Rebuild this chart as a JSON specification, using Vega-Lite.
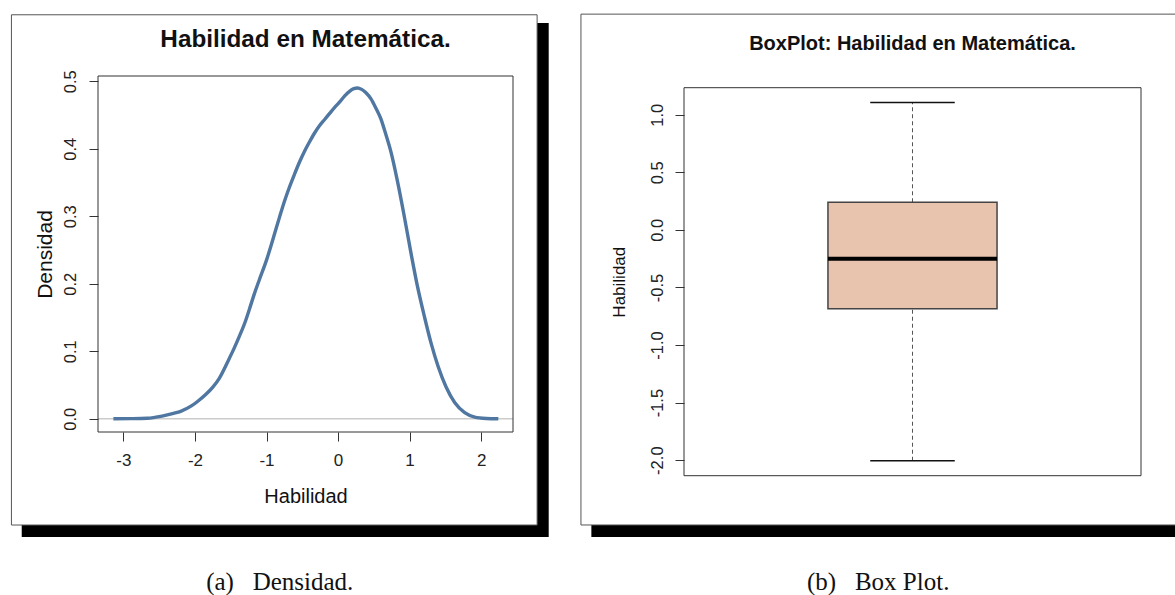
{
  "$schema": "https://vega.github.io/schema/vega-lite/v6.json",
  "background": "white",
  "padding": {"left": 10, "top": 13, "right": 0, "bottom": 0},
  "autosize": {"type": "pad"},
  "spacing": 31,
  "config": {
    "view": {"stroke": null},
    "font": "Liberation Sans",
    "axis": {"domain": false, "grid": false, "tickColor": "#333333", "labelColor": "#222222", "titleColor": "#111111", "titleFontWeight": "normal", "labelFont": "Liberation Sans", "titleFont": "Liberation Sans", "labelFlush": false, "labelOverlap": false, "labelBound": false}
  },
  "datasets": {
    "densidad": [
      {"habilidad": -3.14, "densidad": 0.0},
      {"habilidad": -2.9, "densidad": 0.0002},
      {"habilidad": -2.67, "densidad": 0.0008},
      {"habilidad": -2.46, "densidad": 0.004},
      {"habilidad": -2.3, "densidad": 0.008},
      {"habilidad": -2.2, "densidad": 0.011},
      {"habilidad": -2.05, "densidad": 0.019},
      {"habilidad": -1.96, "densidad": 0.026},
      {"habilidad": -1.85, "densidad": 0.036},
      {"habilidad": -1.75, "densidad": 0.047},
      {"habilidad": -1.66, "densidad": 0.06},
      {"habilidad": -1.54, "densidad": 0.085},
      {"habilidad": -1.45, "densidad": 0.105},
      {"habilidad": -1.38, "densidad": 0.122},
      {"habilidad": -1.3, "densidad": 0.143},
      {"habilidad": -1.24, "densidad": 0.162},
      {"habilidad": -1.17, "densidad": 0.185},
      {"habilidad": -1.1, "densidad": 0.206},
      {"habilidad": -1.0, "densidad": 0.235},
      {"habilidad": -0.91, "densidad": 0.266},
      {"habilidad": -0.82, "densidad": 0.298},
      {"habilidad": -0.75, "densidad": 0.322},
      {"habilidad": -0.68, "densidad": 0.343},
      {"habilidad": -0.61, "densidad": 0.362},
      {"habilidad": -0.54, "densidad": 0.38},
      {"habilidad": -0.47, "densidad": 0.396},
      {"habilidad": -0.4, "densidad": 0.41},
      {"habilidad": -0.33, "densidad": 0.423},
      {"habilidad": -0.26, "densidad": 0.434},
      {"habilidad": -0.19, "densidad": 0.443},
      {"habilidad": -0.12, "densidad": 0.452},
      {"habilidad": -0.05, "densidad": 0.461},
      {"habilidad": 0.02, "densidad": 0.469},
      {"habilidad": 0.09, "densidad": 0.478},
      {"habilidad": 0.16, "densidad": 0.485},
      {"habilidad": 0.22, "densidad": 0.489},
      {"habilidad": 0.27, "densidad": 0.49},
      {"habilidad": 0.33, "densidad": 0.488},
      {"habilidad": 0.39, "densidad": 0.483},
      {"habilidad": 0.46, "densidad": 0.474},
      {"habilidad": 0.53, "densidad": 0.46},
      {"habilidad": 0.6, "densidad": 0.444},
      {"habilidad": 0.66, "densidad": 0.424},
      {"habilidad": 0.74, "densidad": 0.395},
      {"habilidad": 0.83, "densidad": 0.352},
      {"habilidad": 0.92, "densidad": 0.303},
      {"habilidad": 1.02, "densidad": 0.245},
      {"habilidad": 1.11, "densidad": 0.196},
      {"habilidad": 1.21, "densidad": 0.15},
      {"habilidad": 1.3, "densidad": 0.112},
      {"habilidad": 1.4, "densidad": 0.077},
      {"habilidad": 1.51, "densidad": 0.047},
      {"habilidad": 1.63, "densidad": 0.024},
      {"habilidad": 1.77, "densidad": 0.009},
      {"habilidad": 1.91, "densidad": 0.0025},
      {"habilidad": 2.07, "densidad": 0.0005},
      {"habilidad": 2.24, "densidad": 0.0}
    ],
    "caja": [
      {"min": -2.005, "q1": -0.685, "mediana": -0.25, "q3": 0.24, "max": 1.107}
    ]
  },
  "hconcat": [
    {
      "width": 415,
      "height": 356,
      "layer": [
        {
          "data": {"values": [{}]},
          "mark": {"type": "rect", "color": "black"},
          "encoding": {
            "x": {"datum": -4.421, "type": "quantitative", "scale": {"domain": [-3.355, 2.445], "nice": false, "zero": false},
              "axis": {"zindex": 1, "title": "Habilidad", "values": [-3, -2, -1, 0, 1, 2], "labelExpr": "datum.value < 0 ? '-' + format(-datum.value, 'd') : format(datum.value, 'd')", "tickSize": 9, "labelFontSize": 17, "labelPadding": 11, "titleFontSize": 20, "titlePadding": 18}},
            "x2": {"datum": 2.944},
            "y": {"datum": 0.5863, "type": "quantitative", "scale": {"domain": [-0.0196, 0.5078], "nice": false, "zero": false},
              "axis": {"zindex": 1, "title": "Densidad", "values": [0, 0.1, 0.2, 0.3, 0.4, 0.5], "format": ".1f", "labelAngle": 270, "labelAlign": "center", "labelBaseline": "bottom", "tickSize": 9, "labelFontSize": 16.5, "labelPadding": 11, "titleFontSize": 21, "titlePadding": 7}},
            "y2": {"datum": -0.1752}
          }
        },
        {
          "data": {"values": [{}]},
          "mark": {"type": "rect", "fill": "white", "stroke": "#555555", "strokeWidth": 1},
          "encoding": {
            "x": {"datum": -4.565, "type": "quantitative", "scale": {"domain": [-3.355, 2.445], "nice": false, "zero": false}},
            "x2": {"datum": 2.782},
            "y": {"datum": 0.5985, "type": "quantitative", "scale": {"domain": [-0.0196, 0.5078], "nice": false, "zero": false}},
            "y2": {"datum": -0.1574}
          }
        },
        {
          "data": {"values": [{}]},
          "mark": {"type": "rule", "color": "#cccccc", "strokeWidth": 1.5},
          "encoding": {
            "x": {"datum": -3.355, "type": "quantitative", "scale": {"domain": [-3.355, 2.445], "nice": false, "zero": false}},
            "x2": {"datum": 2.445},
            "y": {"datum": 0, "type": "quantitative", "scale": {"domain": [-0.0196, 0.5078], "nice": false, "zero": false}}
          }
        },
        {
          "data": {"name": "densidad"},
          "mark": {"type": "line", "color": "#4f77a1", "strokeWidth": 3.4, "interpolate": "monotone"},
          "encoding": {
            "x": {"field": "habilidad", "type": "quantitative", "scale": {"domain": [-3.355, 2.445], "nice": false, "zero": false}},
            "y": {"field": "densidad", "type": "quantitative", "scale": {"domain": [-0.0196, 0.5078], "nice": false, "zero": false}}
          }
        },
        {
          "data": {"values": [{}]},
          "mark": {"type": "rect", "filled": false, "color": "#333333", "strokeWidth": 1},
          "encoding": {
            "x": {"datum": -3.355, "type": "quantitative", "scale": {"domain": [-3.355, 2.445], "nice": false, "zero": false}},
            "x2": {"datum": 2.445},
            "y": {"datum": -0.0196, "type": "quantitative", "scale": {"domain": [-0.0196, 0.5078], "nice": false, "zero": false}},
            "y2": {"datum": 0.5078}
          }
        },
        {
          "data": {"values": [{}]},
          "mark": {"type": "text", "text": "Habilidad en Matemática.", "font": "Liberation Sans", "fontSize": 24.3, "fontWeight": "bold", "align": "center", "baseline": "alphabetic", "color": "#111111"},
          "encoding": {
            "x": {"datum": -0.455, "type": "quantitative", "scale": {"domain": [-3.355, 2.445], "nice": false, "zero": false}},
            "y": {"datum": 0.5508, "type": "quantitative", "scale": {"domain": [-0.0196, 0.5078], "nice": false, "zero": false}}
          }
        },
        {
          "data": {"values": [{}]},
          "mark": {"type": "text", "text": "(a)\u00a0\u00a0\u00a0Densidad.", "font": "Liberation Serif", "fontSize": 25, "align": "center", "baseline": "alphabetic", "color": "#111111"},
          "encoding": {
            "x": {"datum": -0.815, "type": "quantitative", "scale": {"domain": [-3.355, 2.445], "nice": false, "zero": false}},
            "y": {"datum": -0.2537, "type": "quantitative", "scale": {"domain": [-0.0196, 0.5078], "nice": false, "zero": false}}
          }
        }
      ]
    },
    {
      "width": 457,
      "height": 411.4,
      "layer": [
        {
          "data": {"values": [{}]},
          "mark": {"type": "rect", "color": "black"},
          "encoding": {
            "x": {"datum": 0.2973, "type": "quantitative", "scale": {"domain": [0.5, 1.5], "nice": false, "zero": false}, "axis": null},
            "x2": {"datum": 1.575},
            "y": {"datum": 1.797, "type": "quantitative", "scale": {"domain": [-2.2366, 1.3366], "nice": false, "zero": false},
              "axis": {"zindex": 1, "title": "Habilidad", "values": [-2, -1.5, -1, -0.5, 0, 0.5, 1], "labelExpr": "datum.value < 0 ? '-' + format(-datum.value, '.1f') : format(datum.value, '.1f')", "labelAngle": 270, "labelAlign": "center", "labelBaseline": "bottom", "tickSize": 9, "labelFontSize": 16.5, "labelPadding": 10, "titleFontSize": 17, "titlePadding": 21}},
            "y2": {"datum": -2.668}
          }
        },
        {
          "data": {"values": [{}]},
          "mark": {"type": "rect", "fill": "white", "strokeWidth": 0},
          "encoding": {
            "x": {"datum": 0.2745, "type": "quantitative", "scale": {"domain": [0.5, 1.5], "nice": false, "zero": false}},
            "x2": {"datum": 1.575},
            "y": {"datum": 1.874, "type": "quantitative", "scale": {"domain": [-2.2366, 1.3366], "nice": false, "zero": false}},
            "y2": {"datum": -2.563}
          }
        },
        {
          "data": {"values": [{}]},
          "mark": {"type": "rule", "color": "#555555", "strokeWidth": 1},
          "encoding": {
            "x": {"datum": 0.2745, "type": "quantitative", "scale": {"domain": [0.5, 1.5], "nice": false, "zero": false}},
            "y": {"datum": 1.874, "type": "quantitative", "scale": {"domain": [-2.2366, 1.3366], "nice": false, "zero": false}},
            "y2": {"datum": -2.563}
          }
        },
        {
          "data": {"values": [{}]},
          "mark": {"type": "rule", "color": "#555555", "strokeWidth": 1},
          "encoding": {
            "x": {"datum": 0.2745, "type": "quantitative", "scale": {"domain": [0.5, 1.5], "nice": false, "zero": false}},
            "x2": {"datum": 1.575},
            "y": {"datum": 1.874, "type": "quantitative", "scale": {"domain": [-2.2366, 1.3366], "nice": false, "zero": false}}
          }
        },
        {
          "data": {"values": [{}]},
          "mark": {"type": "rule", "color": "#555555", "strokeWidth": 1},
          "encoding": {
            "x": {"datum": 0.2745, "type": "quantitative", "scale": {"domain": [0.5, 1.5], "nice": false, "zero": false}},
            "x2": {"datum": 1.575},
            "y": {"datum": -2.563, "type": "quantitative", "scale": {"domain": [-2.2366, 1.3366], "nice": false, "zero": false}}
          }
        },
        {
          "data": {"values": [{}]},
          "mark": {"type": "rect", "filled": false, "color": "#333333", "strokeWidth": 1},
          "encoding": {
            "x": {"datum": 0.5, "type": "quantitative", "scale": {"domain": [0.5, 1.5], "nice": false, "zero": false}},
            "x2": {"datum": 1.5},
            "y": {"datum": -2.135, "type": "quantitative", "scale": {"domain": [-2.2366, 1.3366], "nice": false, "zero": false}},
            "y2": {"datum": 1.235}
          }
        },
        {
          "data": {"name": "caja"},
          "mark": {"type": "rule", "color": "#555555", "strokeWidth": 1, "strokeDash": [4, 3]},
          "encoding": {
            "x": {"datum": 1, "type": "quantitative", "scale": {"domain": [0.5, 1.5], "nice": false, "zero": false}},
            "y": {"field": "q3", "type": "quantitative", "scale": {"domain": [-2.2366, 1.3366], "nice": false, "zero": false}},
            "y2": {"field": "max"}
          }
        },
        {
          "data": {"name": "caja"},
          "mark": {"type": "rule", "color": "#555555", "strokeWidth": 1, "strokeDash": [4, 3]},
          "encoding": {
            "x": {"datum": 1, "type": "quantitative", "scale": {"domain": [0.5, 1.5], "nice": false, "zero": false}},
            "y": {"field": "min", "type": "quantitative", "scale": {"domain": [-2.2366, 1.3366], "nice": false, "zero": false}},
            "y2": {"field": "q1"}
          }
        },
        {
          "data": {"name": "caja"},
          "mark": {"type": "rect", "fill": "#e8c3ad", "stroke": "#444444", "strokeWidth": 1.5},
          "encoding": {
            "x": {"datum": 0.815, "type": "quantitative", "scale": {"domain": [0.5, 1.5], "nice": false, "zero": false}},
            "x2": {"datum": 1.185},
            "y": {"field": "q1", "type": "quantitative", "scale": {"domain": [-2.2366, 1.3366], "nice": false, "zero": false}},
            "y2": {"field": "q3"}
          }
        },
        {
          "data": {"name": "caja"},
          "mark": {"type": "rule", "color": "black", "strokeWidth": 4},
          "encoding": {
            "x": {"datum": 0.815, "type": "quantitative", "scale": {"domain": [0.5, 1.5], "nice": false, "zero": false}},
            "x2": {"datum": 1.185},
            "y": {"field": "mediana", "type": "quantitative", "scale": {"domain": [-2.2366, 1.3366], "nice": false, "zero": false}}
          }
        },
        {
          "data": {"name": "caja"},
          "mark": {"type": "rule", "color": "#111111", "strokeWidth": 1.5},
          "encoding": {
            "x": {"datum": 0.9075, "type": "quantitative", "scale": {"domain": [0.5, 1.5], "nice": false, "zero": false}},
            "x2": {"datum": 1.0925},
            "y": {"field": "max", "type": "quantitative", "scale": {"domain": [-2.2366, 1.3366], "nice": false, "zero": false}}
          }
        },
        {
          "data": {"name": "caja"},
          "mark": {"type": "rule", "color": "#111111", "strokeWidth": 1.5},
          "encoding": {
            "x": {"datum": 0.9075, "type": "quantitative", "scale": {"domain": [0.5, 1.5], "nice": false, "zero": false}},
            "x2": {"datum": 1.0925},
            "y": {"field": "min", "type": "quantitative", "scale": {"domain": [-2.2366, 1.3366], "nice": false, "zero": false}}
          }
        },
        {
          "data": {"values": [{}]},
          "mark": {"type": "text", "text": "BoxPlot: Habilidad en Matemática.", "font": "Liberation Sans", "fontSize": 20, "fontWeight": "bold", "align": "center", "baseline": "alphabetic", "color": "#111111"},
          "encoding": {
            "x": {"datum": 1.0, "type": "quantitative", "scale": {"domain": [0.5, 1.5], "nice": false, "zero": false}},
            "y": {"datum": 1.5625, "type": "quantitative", "scale": {"domain": [-2.2366, 1.3366], "nice": false, "zero": false}}
          }
        },
        {
          "data": {"values": [{}]},
          "mark": {"type": "text", "text": "(b)\u00a0\u00a0\u00a0Box Plot.", "font": "Liberation Serif", "fontSize": 25, "align": "center", "baseline": "alphabetic", "color": "#111111"},
          "encoding": {
            "x": {"datum": 0.925, "type": "quantitative", "scale": {"domain": [0.5, 1.5], "nice": false, "zero": false}},
            "y": {"datum": -3.128, "type": "quantitative", "scale": {"domain": [-2.2366, 1.3366], "nice": false, "zero": false}}
          }
        }
      ]
    }
  ]
}
